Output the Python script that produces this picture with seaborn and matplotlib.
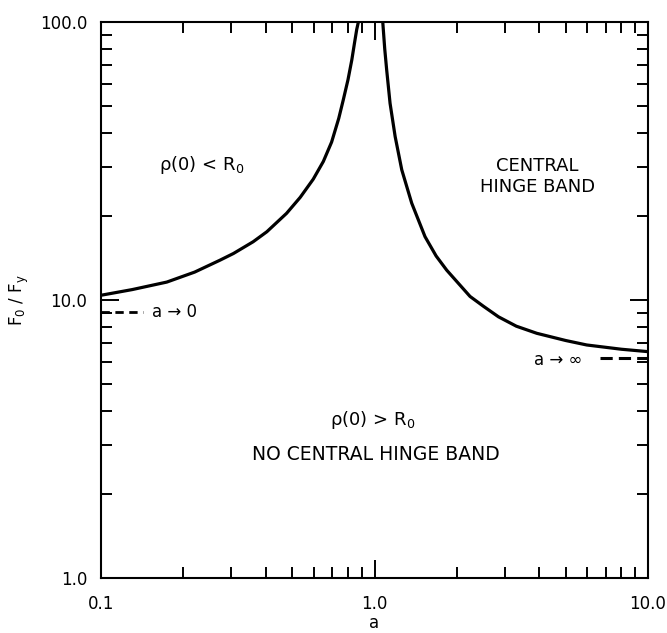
import numpy as np
import pandas as pd
import matplotlib
matplotlib.use("Agg")
import matplotlib.pyplot as plt
import matplotlib.ticker as mticker
import seaborn as sns

# curve (a, F0/Fy)
a_left = [0.1, 0.13, 0.174, 0.22, 0.272, 0.305, 0.36, 0.404, 0.477, 0.535, 0.597,
          0.65, 0.697, 0.74, 0.769, 0.8, 0.826, 0.845, 0.861, 0.873]
f_left = [10.4, 10.9, 11.6, 12.6, 13.9, 14.7, 16.2, 17.6, 20.5, 23.4, 27.2,
          31.5, 37.0, 45.0, 52.5, 62.0, 73.0, 84.0, 94.0, 100.0]

a_right = [1.072, 1.09, 1.108, 1.14, 1.19, 1.258, 1.368, 1.53, 1.68, 1.837, 2.235,
           2.5, 2.84, 3.3, 3.92, 5.0, 5.97, 8.0, 10.0]
f_right = [100.0, 80.0, 67.2, 51.0, 38.7, 29.4, 22.3, 16.9, 14.4, 12.8, 10.3,
           9.5, 8.7, 8.05, 7.59, 7.15, 6.89, 6.65, 6.52]

# asymptotes
a_zero = [0.1, 0.1426]
f_zero = [9.08, 9.08]
a_inf = [6.67, 10.0]
f_inf = [6.19, 6.19]

x_ticks = [0.1, 1.0, 10.0]
x_labels = ["0.1", "1.0", "10.0"]
y_ticks = [1.0, 10.0, 100.0]
y_labels = ["1.0", "10.0", "100.0"]

sns.set_style("ticks")
plt.rcParams["font.family"] = ["DejaVu Sans"]
plt.rcParams["mathtext.default"] = "regular"
plt.rcParams["text.color"] = "black"
plt.rcParams["axes.labelcolor"] = "black"
plt.rcParams["xtick.color"] = "black"
plt.rcParams["ytick.color"] = "black"

df = pd.concat([
    pd.DataFrame({"a": a_left, "F": f_left, "branch": "left"}),
    pd.DataFrame({"a": a_right, "F": f_right, "branch": "right"}),
])

fig = plt.figure(figsize=(6.67, 6.33), dpi=100)
ax = fig.add_axes([101 / 667, 55 / 633, 547 / 667, 556 / 633])

sns.lineplot(data=df, x="a", y="F", units="branch", estimator=None, color="black",
             linewidth=2.3, solid_joinstyle="round", ax=ax, legend=False)
sns.lineplot(x=a_zero, y=f_zero, color="black", linewidth=2.0, linestyle=(0, (3, 2)), ax=ax)
sns.lineplot(x=a_inf, y=f_inf, color="black", linewidth=2.2, linestyle=(0, (4, 2)), ax=ax)

ax.set_xscale("log")
ax.set_yscale("log")
ax.set_xlim(0.1, 10)
ax.set_ylim(1, 100)
ax.set_xticks(x_ticks, labels=x_labels)
ax.set_yticks(y_ticks, labels=y_labels)
ax.xaxis.set_minor_locator(mticker.LogLocator(base=10, subs=np.arange(2, 10)))
ax.yaxis.set_minor_locator(mticker.LogLocator(base=10, subs=np.arange(2, 10)))
ax.xaxis.set_minor_formatter(mticker.NullFormatter())
ax.yaxis.set_minor_formatter(mticker.NullFormatter())

ax.tick_params(which="both", direction="in", top=True, right=True, color="black", width=1.4)
ax.tick_params(which="major", length=13, labelsize=12, pad=10)
ax.tick_params(which="minor", length=8)
ax.tick_params(axis="x", which="major", pad=12)
for sp in ax.spines.values():
    sp.set_linewidth(1.5)
    sp.set_color("black")

ax.set_xlabel("a", fontsize=12, labelpad=1)
ax.set_ylabel("F$_0$ / F$_y$", fontsize=12, labelpad=6)

ax.text(0.234, 30.6, "ρ(0) < R$_0$", fontsize=13, ha="center", va="center")
ax.text(3.93, 27.9, "CENTRAL\nHINGE BAND", fontsize=13, ha="center", va="center",
        linespacing=1.2)
ax.text(0.987, 3.69, "ρ(0) > R$_0$", fontsize=13, ha="center", va="center")
ax.text(1.01, 2.77, "NO CENTRAL HINGE BAND", fontsize=13.5, ha="center", va="center")
ax.text(0.185, 9.08, "a → 0", fontsize=12, ha="center", va="center")
ax.text(4.69, 6.08, "a → ∞", fontsize=12, ha="center", va="center")

fig.savefig("out.png", dpi=100)
